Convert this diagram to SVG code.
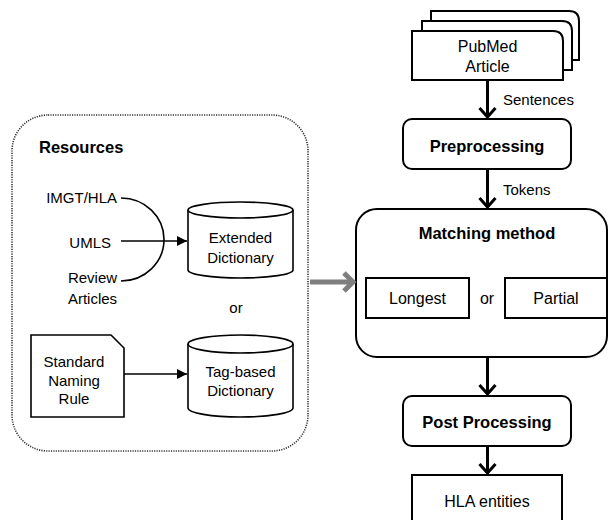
<svg xmlns="http://www.w3.org/2000/svg" width="608" height="520" viewBox="0 0 608 520">
  <defs>
    <style>
      .box { fill: #fff; stroke: #000; stroke-width: 2; }
      .thin { fill: #fff; stroke: #000; stroke-width: 1.6; }
      .lbl { font-family: "Liberation Sans", Arial, sans-serif; font-size: 15px; fill: #000; }
      .node { font-family: "Liberation Sans", Arial, sans-serif; font-size: 16px; fill: #000; }
      .bold { font-family: "Liberation Sans", Arial, sans-serif; font-size: 16.5px; font-weight: bold; fill: #000; }
      .flow { fill: none; stroke: #000; stroke-width: 3; }
      .head { fill: none; stroke: #000; stroke-width: 3; stroke-linejoin: miter; }
      .link { fill: none; stroke: #000; stroke-width: 1.6; }
    </style>
    <marker id="tri" viewBox="0 0 10 10" refX="10" refY="5" markerWidth="10" markerHeight="10" markerUnits="userSpaceOnUse" orient="auto">
      <path d="M0,0 L10,5 L0,10 Z" fill="#000"/>
    </marker>
  </defs>

  <!-- Resources container -->
  <g id="resources">
    <rect x="12" y="115" width="296" height="336" rx="36" fill="none" stroke="#333" stroke-width="1.6" stroke-dasharray="1.2 1.2"/>
    <text class="bold" x="39" y="153">Resources</text>
  </g>

  <g id="src-imgt"><text class="lbl" x="117" y="203" text-anchor="end">IMGT/HLA</text></g>
  <g id="src-umls"><text class="lbl" x="111" y="248" text-anchor="end">UMLS</text></g>
  <g id="src-review">
    <text class="lbl" x="92.5" y="283" text-anchor="middle">Review</text>
    <text class="lbl" x="92.5" y="304" text-anchor="middle">Articles</text>
  </g>

  <g id="extended-dictionary">
    <path class="thin" d="M188,210 A52.5,8 0 0 1 293,210 V270 A52.5,8 0 0 1 188,270 Z"/>
    <path class="link" d="M188,210 A52.5,8 0 0 0 293,210"/>
    <text class="lbl" x="240.5" y="242.5" text-anchor="middle">Extended</text>
    <text class="lbl" x="240.5" y="262.5" text-anchor="middle">Dictionary</text>
  </g>

  <g id="or-resources"><text class="lbl" x="236" y="313" text-anchor="middle">or</text></g>

  <g id="naming-rule">
    <path class="thin" d="M31,335 H111 L124,348 V417 H31 Z"/>
    <text class="lbl" x="74" y="366.5" text-anchor="middle">Standard</text>
    <text class="lbl" x="74" y="385.5" text-anchor="middle">Naming</text>
    <text class="lbl" x="74" y="403.5" text-anchor="middle">Rule</text>
  </g>

  <g id="tag-dictionary">
    <path class="thin" d="M188,344 A52.5,9 0 0 1 293,344 V408 A52.5,9 0 0 1 188,408 Z"/>
    <path class="link" d="M188,344 A52.5,9 0 0 0 293,344"/>
    <text class="lbl" x="240.5" y="377" text-anchor="middle">Tag-based</text>
    <text class="lbl" x="240.5" y="395.5" text-anchor="middle">Dictionary</text>
  </g>

  <!-- Document stack -->
  <g id="pubmed">
    <path class="box" d="M431,11 H569 Q579,11 579,21 V60 H431 Z"/>
    <path class="box" d="M422,21 H562 Q572,21 572,31 V70 H422 Z"/>
    <path class="box" d="M412,31 H553 Q563,31 563,41 V80 H412 Z"/>
    <text class="node" x="487.5" y="52" text-anchor="middle">PubMed</text>
    <text class="node" x="487.5" y="72" text-anchor="middle">Article</text>
  </g>

  <g id="preprocessing">
    <rect class="box" x="403" y="119" width="168" height="50" rx="9"/>
    <text class="bold" x="487" y="152" text-anchor="middle">Preprocessing</text>
  </g>

  <g id="matching">
    <rect class="box" x="356" y="209" width="251" height="148" rx="21"/>
    <text class="bold" x="487" y="239" text-anchor="middle">Matching method</text>
    <g id="longest">
      <rect class="box" x="366" y="278" width="103" height="40"/>
      <text class="node" x="417.5" y="304" text-anchor="middle">Longest</text>
    </g>
    <text class="node" x="487" y="304" text-anchor="middle">or</text>
    <g id="partial">
      <rect class="box" x="505" y="278" width="102" height="40"/>
      <text class="node" x="556" y="304" text-anchor="middle">Partial</text>
    </g>
  </g>

  <g id="post-processing">
    <rect class="box" x="403" y="396" width="168" height="50" rx="9"/>
    <text class="bold" x="487" y="428" text-anchor="middle">Post Processing</text>
  </g>

  <g id="hla-entities">
    <rect class="box" x="412" y="475" width="150" height="60"/>
    <text class="node" x="487" y="507" text-anchor="middle">HLA entities</text>
  </g>

  <!-- Connectors -->
  <g id="connectors">
    <!-- sources merging into the extended dictionary -->
    <path class="link" d="M121,198 A43,41.5 0 0 1 121,281"/>
    <line class="link" x1="121" y1="241" x2="187" y2="241" marker-end="url(#tri)"/>
    <line class="link" x1="124" y1="374" x2="187" y2="374" marker-end="url(#tri)"/>

    <!-- resources feed the matcher -->
    <line x1="310" y1="282" x2="353" y2="282" stroke="#7f7f7f" stroke-width="5"/>
    <path d="M344,273 L353,282 L344,291" fill="none" stroke="#7f7f7f" stroke-width="5"/>

    <!-- main pipeline -->
    <line class="flow" x1="487.5" y1="80" x2="487.5" y2="117"/>
    <path class="head" d="M479.5,108 L487.5,117 L495.5,108"/>
    <text class="lbl" x="503" y="105">Sentences</text>

    <line class="flow" x1="487.5" y1="169" x2="487.5" y2="207"/>
    <path class="head" d="M479.5,198 L487.5,207 L495.5,198"/>
    <text class="lbl" x="503" y="195">Tokens</text>

    <line class="flow" x1="487.5" y1="357" x2="487.5" y2="394"/>
    <path class="head" d="M479.5,385 L487.5,394 L495.5,385"/>

    <line class="flow" x1="487.5" y1="446" x2="487.5" y2="473"/>
    <path class="head" d="M479.5,464 L487.5,473 L495.5,464"/>
  </g>
</svg>
